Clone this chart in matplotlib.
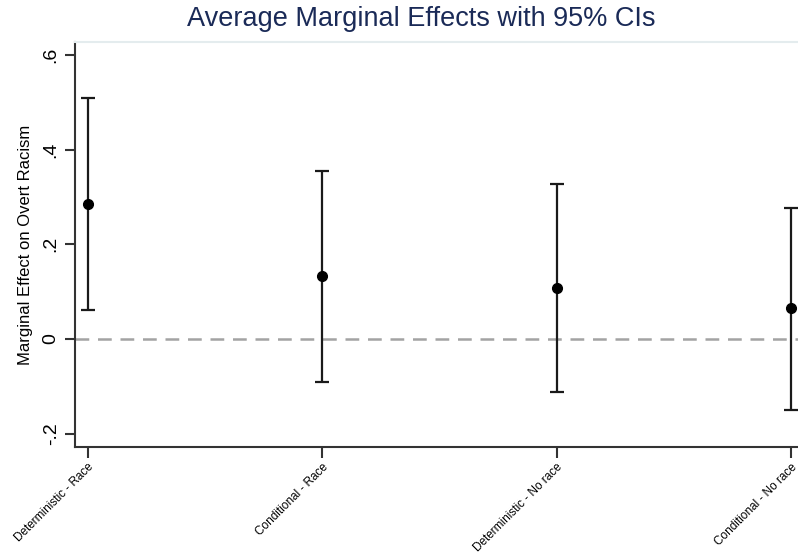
import numpy as np
import matplotlib
matplotlib.use('Agg')
import matplotlib.pyplot as plt

plt.rcParams['font.family'] = ['Liberation Sans', 'DejaVu Sans']

# valores
categorias = ['Deterministic - Race', 'Conditional - Race',
              'Deterministic - No race', 'Conditional - No race']
efeito = [0.284, 0.133, 0.108, 0.065]
ic_inf = [0.061, -0.091, -0.112, -0.150]
ic_sup = [0.509, 0.355, 0.328, 0.277]
yticks = [-0.2, 0, 0.2, 0.4, 0.6]
yticklabels = ['-.2', '0', '.2', '.4', '.6']

x = np.arange(1, len(categorias) + 1)
efeito = np.array(efeito)
erro = np.array([efeito - np.array(ic_inf), np.array(ic_sup) - efeito])

fig = plt.figure(figsize=(7.98, 5.56), dpi=100)
ax = fig.add_axes([75 / 798, 1 - 447 / 556, 1 - 75 / 798, (447 - 42) / 556])

ax.axhline(0, color='#a3a3a3', linestyle=(0, (5.5, 3.5)), linewidth=1.8, zorder=1)
ax.errorbar(x, efeito, yerr=erro, fmt='o', color='black', ecolor='#1a1a1a',
            elinewidth=1.6, capsize=5, capthick=1.6, markersize=7, zorder=3)

ax.set_xlim(0.945, 4.03)
ax.set_ylim(-0.228, 0.627)
ax.set_xticks(x)
ax.set_xticklabels(categorias, rotation=45, ha='right', rotation_mode='anchor',
                   fontsize=8.5)
ax.set_yticks(yticks)
ax.set_yticklabels(yticklabels, rotation=90, va='center', fontsize=14)
ax.tick_params(axis='x', length=8, width=1.5, color='#333333', pad=2)
ax.tick_params(axis='y', length=7, width=1.5, color='#333333', pad=4)

ax.spines['right'].set_visible(False)
ax.spines['top'].set_color('#e4ecee')
ax.spines['top'].set_linewidth(1.5)
for s in ['left', 'bottom']:
    ax.spines[s].set_linewidth(1.5)
    ax.spines[s].set_color('#333333')

ax.set_ylabel('Marginal Effect on Overt Racism', fontsize=12, labelpad=7)
fig.text(421 / 798, 1 - 19 / 556, 'Average Marginal Effects with 95% CIs',
         ha='center', va='center', fontsize=19.5, color='#1a2a57')

fig.savefig('out.png', dpi=100)
